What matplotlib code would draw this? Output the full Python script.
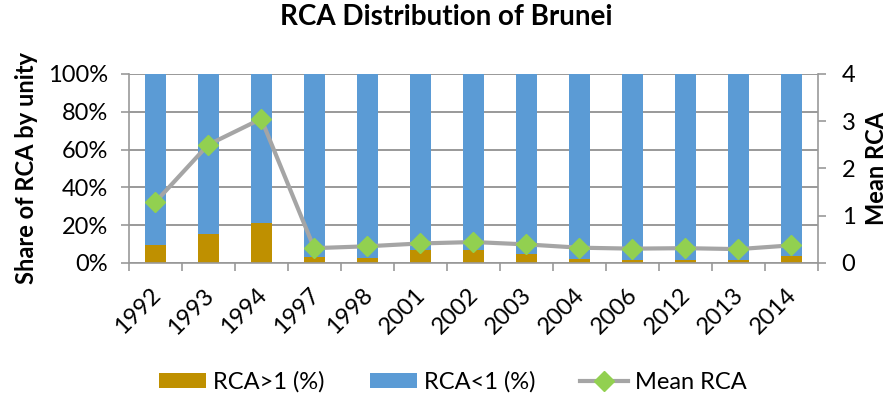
import numpy as np
import matplotlib.pyplot as plt
import matplotlib.transforms as mtransforms

plt.rcParams['font.family'] = ['Lato', 'DejaVu Sans']

years = ['1992', '1993', '1994', '1997', '1998', '2001', '2002', '2003',
         '2004', '2006', '2012', '2013', '2014']
rca_above = [9.5, 15.0, 21.0, 3.0, 2.6, 6.9, 6.9, 4.4, 2.1, 1.6, 1.6, 1.6, 3.5]
rca_below = [100 - v for v in rca_above]
mean_rca = [1.28, 2.50, 3.05, 0.31, 0.35, 0.41, 0.44, 0.39, 0.32, 0.30, 0.31, 0.29, 0.37]

gold = '#BF9000'
blue = '#5B9BD5'
grey = '#A5A5A5'
green = '#92D050'
axcol = '#999999'

fig = plt.figure(figsize=(8.93, 4.0), dpi=100)
ax = fig.add_axes([0.144, 0.343, 0.772, 0.472])
x = np.arange(len(years))

b1 = ax.bar(x, rca_above, width=0.4, color=gold, zorder=2, label='RCA>1 (%)')
b2 = ax.bar(x, rca_below, width=0.4, bottom=rca_above, color=blue, zorder=2,
            label='RCA<1 (%)')

ax.set_xlim(-0.5, len(years) - 0.5)
ax.set_ylim(0, 100)
ax.set_yticks(range(0, 101, 20))
ax.set_yticklabels([f'{v}%' for v in range(0, 101, 20)], fontsize=17)
ax.yaxis.grid(True, color='#888888', linewidth=1.2, zorder=0)
ax.set_axisbelow(True)
ax.tick_params(axis='y', length=6, width=1.2, color=axcol, pad=9)
ax.set_xticks(x)
ax.set_xticklabels(years, rotation=45, ha='right', va='center',
                   rotation_mode='anchor', fontsize=17)
ax.tick_params(axis='x', length=0, pad=21)
shift = mtransforms.ScaledTranslation(2 / 100, 0, fig.dpi_scale_trans)
for lbl in ax.get_xticklabels():
    lbl.set_transform(lbl.get_transform() + shift)
ax.set_xticks(np.arange(-0.5, len(years), 1), minor=True)
ax.tick_params(axis='x', which='minor', length=6, color=axcol, width=1.2)
for s in ['top', 'right']:
    ax.spines[s].set_visible(False)
for s in ['bottom', 'left']:
    ax.spines[s].set_color(axcol)
    ax.spines[s].set_linewidth(1.2)
ax.set_ylabel('Share of RCA by unity', fontsize=17, fontweight='bold', labelpad=7)

ax2 = ax.twinx()
l1, = ax2.plot(x, mean_rca, color=grey, linewidth=3, marker='D', markersize=10.5,
               markerfacecolor=green, markeredgecolor=green, zorder=3, label='Mean RCA')
ax2.set_ylim(0, 4)
ax2.set_yticks(range(0, 5))
ax2.set_yticklabels([str(v) for v in range(0, 5)], fontsize=17)
ax2.tick_params(axis='y', length=6, color=axcol, width=1.2, pad=11)
for s in ['top', 'left', 'bottom']:
    ax2.spines[s].set_visible(False)
ax2.spines['right'].set_color(axcol)
ax2.spines['right'].set_linewidth(1.2)
ax2.set_ylabel('Mean RCA', fontsize=17, fontweight='bold', labelpad=7)

fig.suptitle('RCA Distribution of Brunei', fontsize=20, fontweight='bold', y=0.99)

fig.legend(handles=[b1, b2, l1], loc='center', ncol=3, frameon=False,
           fontsize=17, bbox_to_anchor=(0.507, 0.045), handlelength=2.0,
           handleheight=0.55, columnspacing=1.9, handletextpad=0.3)

fig.savefig('out.png', dpi=100)
